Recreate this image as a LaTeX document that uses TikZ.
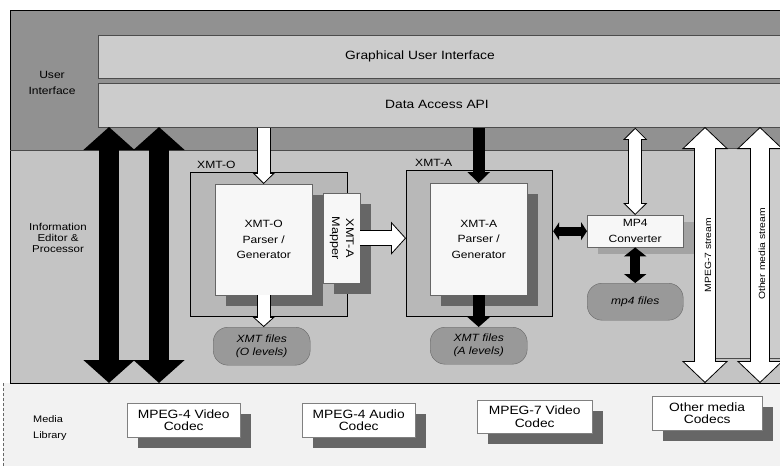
\documentclass[tikz,border=0pt]{standalone}
\usepackage{fontspec}
\setmainfont{Liberation Sans}[FakeStretch=1.15]
\usetikzlibrary{arrows.meta,shadows,positioning}

\definecolor{bandgray}{gray}{0.57}
\definecolor{bargray}{gray}{0.80}
\definecolor{midgray}{gray}{0.77}
\definecolor{boxgray}{gray}{0.72}
\definecolor{paper}{gray}{0.97}
\definecolor{shadowgray}{gray}{0.40}
\definecolor{filegray}{gray}{0.60}
\definecolor{libgray}{gray}{0.95}

\tikzset{
  bar/.style={draw=black!70, fill=bargray, line width=.8pt, anchor=north west, inner sep=0pt},
  framebox/.style={draw=black, line width=1.2pt, fill=boxgray, anchor=north west, inner sep=0pt},
  shadowed/.style={drop shadow={shadow xshift=11pt, shadow yshift=-11pt, fill=shadowgray, opacity=1}},
  parser/.style={draw=black!60, fill=paper, anchor=north west, inner sep=0pt, align=center, font=\fontsize{10.5}{15.5}\selectfont},
  files/.style={draw=black!60, fill=filegray, rounded corners=15pt, anchor=north west, inner sep=0pt, align=center, font=\fontsize{10.5}{13}\selectfont\itshape},
  codec/.style={draw=black!50, fill=white, anchor=north west, inner sep=0pt, align=center, font=\fontsize{12}{12.5}\selectfont, shadowed},
  uitext/.style={inner sep=0pt, font=\fontsize{12}{14}\selectfont},
  sidetext/.style={inner sep=0pt, align=center, font=\fontsize{10}{11}\selectfont},
  tag/.style={inner sep=0pt, font=\fontsize{10.5}{12}\selectfont},
  streamtext/.style={inner sep=0pt, rotate=90, font=\fontsize{9}{10}\selectfont},
  fatblack/.style={line width=20pt, {Triangle[width=50pt,length=23pt]}-{Triangle[width=50pt,length=23pt]}},
}

\begin{document}
\begin{tikzpicture}[x=1pt, y=-1pt]
\useasboundingbox (0,0) rectangle (780,466);

% areas
\fill[libgray] (3,383) rectangle (790,470);
\draw[black!60, densely dashed] (3,383) -- (3,470);
\fill[midgray] (10,150) rectangle (790,383);
\fill[bandgray] (10,10) rectangle (790,150);
\draw[line width=1pt] (790,10) -- (10,10) -- (10,383) -- (790,383);
\draw[black!70, line width=.8pt] (10,150) -- (790,150);

% user interface
\node[bar, minimum width=692pt, minimum height=43pt] (gui) at (98,35) {};
\node[bar, minimum width=692pt, minimum height=44pt] (api) at (98,83) {};
\node[uitext] (guitext) at (420,56) {Graphical User Interface};
\node[uitext] (apitext) at (437,104) {Data Access API};
\node[sidetext, font=\fontsize{10.5}{16}\selectfont] (uilabel) at (52,83) {User\\Interface};
\node[sidetext] (edlabel) at (58,238) {Information\\Editor \&\\Processor};

% XMT-O and XMT-A blocks
\node[framebox, minimum width=157pt, minimum height=144pt] (xoframe) at (190,172) {};
\node[framebox, minimum width=146pt, minimum height=146pt] (xaframe) at (406,170) {};
\node[tag, above right=3pt and 7pt of xoframe.north west] (xotag) {XMT-O};
\node[tag, above right=3pt and 9pt of xaframe.north west] (xatag) {XMT-A};

\node[parser, shadowed, minimum width=97pt, minimum height=111pt] (xoparser) at (215,184) {XMT-O\\Parser /\\Generator};
\node[parser, shadowed, minimum width=37pt, minimum height=90pt] (mapper) at (323,193) {};
\node[rotate=-90, align=center, inner sep=0pt, font=\fontsize{11}{14}\selectfont] (mappertext) at (mapper.center) {XMT-A\\Mapper};
\node[parser, shadowed, minimum width=97pt, minimum height=112pt] (xaparser) at (430,183) {XMT-A\\Parser /\\Generator};

\node[files, minimum width=97pt, minimum height=38pt] (xofiles) at (213,327) {XMT files\\(O levels)};
\node[files, minimum width=97pt, minimum height=37pt] (xafiles) at (430,327) {XMT files\\(A levels)};

% MP4
\node[parser, drop shadow={shadow xshift=11pt, shadow yshift=-7pt, fill=shadowgray!60!white, opacity=1}, minimum width=96pt, minimum height=32pt, font=\fontsize{10.5}{16}\selectfont] (mpconv) at (587,215) {MP4\\Converter};
\node[files, minimum width=96pt, minimum height=37pt] (mpfiles) at (587,283) {mp4 files};

% stream channels
\draw[black!70, fill=bargray] (715,148) rectangle (751,358);
\draw[black!70, fill=bargray] (769,148) rectangle (790,358);

% media library
\node[sidetext, align=left, anchor=west, font=\fontsize{9.5}{16}\selectfont] (liblabel) at (33,428) {Media\\Library};
\node[codec, minimum width=113pt, minimum height=34pt] (mpfourv) at (127,403) {MPEG-4 Video\\Codec};
\node[codec, minimum width=113pt, minimum height=34pt] (mpfoura) at (302,403) {MPEG-4 Audio\\Codec};
\node[codec, minimum width=115pt, minimum height=33pt] (mpsevenv) at (477,400) {MPEG-7 Video\\Codec};
\node[codec, minimum width=110pt, minimum height=34pt] (othercod) at (652,396) {Other media\\Codecs};

% black arrows
\coordinate (edA1) at (109,127);
\coordinate (edA2) at (109,383);
\coordinate (edB1) at (159,127);
\coordinate (edB2) at (159,383);
\draw[fatblack] (edA1) -- (edA2);
\draw[fatblack] (edB1) -- (edB2);
\draw[line width=12pt, -{Triangle[width=22pt,length=11pt]}] (api.south -| xaparser.north) -- (xaparser.north);
\draw[line width=12pt, -{Triangle[width=22pt,length=10pt]}] (xaparser.south) -- (xaparser.south |- xafiles.north);
\draw[line width=9pt, {Triangle[width=18pt,length=6pt]}-{Triangle[width=18pt,length=6pt]}] (xaframe.east |- mpconv.west) -- (mpconv.west);
\draw[line width=10pt, {Triangle[width=22pt,length=9pt]}-{Triangle[width=22pt,length=9pt]}] (mpconv.south) -- (mpconv.south |- mpfiles.north);

% white arrows
\draw[line width=13.6pt, -{Triangle[width=22pt,length=11pt,fill=white,line width=.8pt]}] (api.south -| xoparser.north) -- (xoparser.north);
\draw[white, line width=12pt, shorten >=9pt] (api.south -| xoparser.north) -- (xoparser.north);
\draw[line width=13.6pt, -{Triangle[width=22pt,length=10pt,fill=white,line width=.8pt]}] (xoparser.south) -- (xoparser.south |- xofiles.north);
\draw[white, line width=12pt, shorten >=8pt] (xoparser.south) -- (xoparser.south |- xofiles.north);
\draw[line width=15.6pt, -{Triangle[width=33pt,length=15pt,fill=white,line width=.8pt]}] (mapper.east) -- (xaframe.west |- mapper.east);
\draw[white, line width=14pt, shorten >=13pt] (mapper.east) -- (xaframe.west |- mapper.east);
\draw[line width=13.6pt, {Triangle[width=24pt,length=12pt,fill=white,line width=.8pt]}-{Triangle[width=24pt,length=12pt,fill=white,line width=.8pt]}] (api.south -| mpconv.north) -- (mpconv.north);
\draw[white, line width=12pt, shorten <=10pt, shorten >=10pt] (api.south -| mpconv.north) -- (mpconv.north);

\coordinate (msA1) at (705,127);
\coordinate (msA2) at (705,383);
\coordinate (msB1) at (760,127);
\coordinate (msB2) at (760,383);
\draw[line width=21.6pt, {Triangle[width=46pt,length=22pt,fill=white,line width=.8pt]}-{Triangle[width=46pt,length=22pt,fill=white,line width=.8pt]}] (msA1) -- (msA2);
\draw[white, line width=20pt, shorten <=20pt, shorten >=20pt] (msA1) -- (msA2);
\draw[line width=19.6pt, {Triangle[width=46pt,length=22pt,fill=white,line width=.8pt]}-{Triangle[width=46pt,length=22pt,fill=white,line width=.8pt]}] (msB1) -- (msB2);
\draw[white, line width=18pt, shorten <=20pt, shorten >=20pt] (msB1) -- (msB2);
\node[streamtext] (mpsevens) at (708,255) {MPEG-7 stream};
\node[streamtext] (otherms) at (762,254) {Other media stream};
\end{tikzpicture}
\end{document}
